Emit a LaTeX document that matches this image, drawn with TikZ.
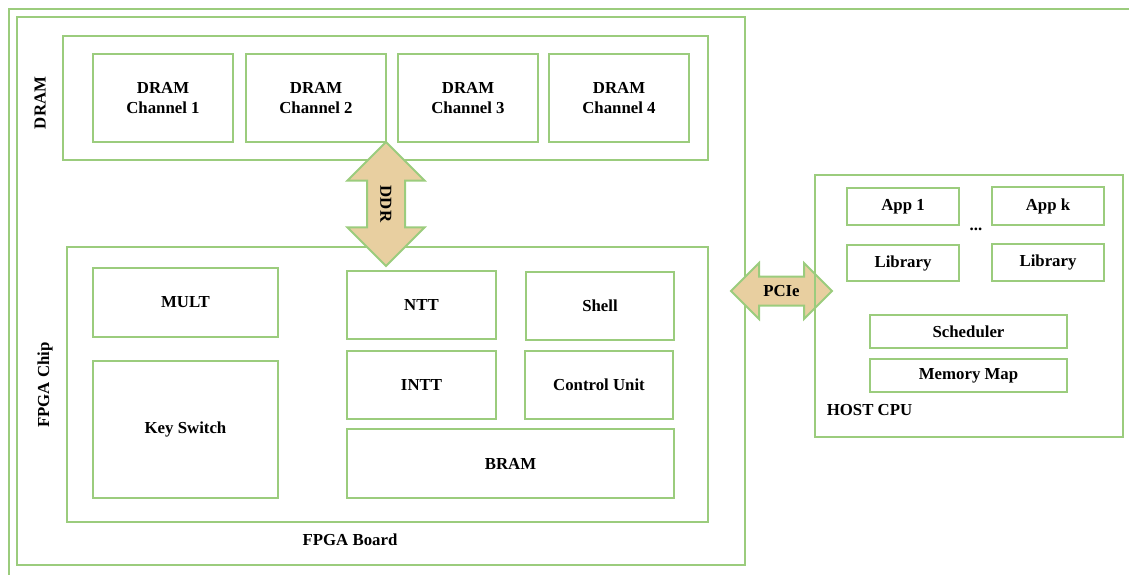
\documentclass[tikz,border=0pt]{standalone}
\usepackage{fontspec}
\setmainfont{Liberation Serif}
\usetikzlibrary{shapes.arrows, positioning}
\definecolor{boxgreen}{RGB}{155,204,125}
\definecolor{papyrus}{RGB}{232,207,160}

\begin{document}
\begin{tikzpicture}[x=1pt, y=-1pt,
    txt/.style={font=\bfseries\fontsize{16.8}{20}\selectfont},
    blk/.style={txt, draw=boxgreen, line width=2pt, inner sep=0pt, align=center},
    lbl/.style={txt, inner sep=0pt},
    bus/.style={txt, double arrow, double arrow head extend=#1, draw=boxgreen,
        line width=2pt, fill=papyrus, inner sep=0pt}]
    \useasboundingbox (0,0) rectangle (1129,575);

    % Outer frame
    \draw[boxgreen, line width=2pt] (9,580) -- (9,9) -- (1135,9);

    % FPGA board
    \node[blk, minimum width=728pt, minimum height=548pt] (board) at (381,291) {};
    \node[lbl] (boardlbl) at (350,540) {FPGA Board};

    % DRAM
    \node[blk, minimum width=645pt, minimum height=124pt] (dram) at (385.5,98) {};
    \node[lbl, rotate=90] (dramlbl) at (40,103) {DRAM};
    \foreach \i/\x in {1/163, 2/316, 3/468, 4/619}
        \node[blk, minimum width=140pt, minimum height=88pt] (ch\i) at (\x,98) {DRAM\\Channel \i};

    % FPGA chip
    \node[blk, minimum width=641pt, minimum height=275pt] (chip) at (387.5,384.5) {};
    \node[lbl, rotate=90] (chiplbl) at (45,385) {FPGA Chip};
    \node[blk, minimum width=185pt, minimum height=69pt] (mult) at (185.5,302.5) {MULT};
    \node[blk, minimum width=185pt, minimum height=137pt] (keysw) at (185.5,429.5) {Key Switch};
    \node[blk, minimum width=149pt, minimum height=68pt] (ntt) at (421.5,305) {NTT};
    \node[blk, minimum width=148pt, minimum height=68pt] (shell) at (600,306) {Shell};
    \node[blk, minimum width=149pt, minimum height=68pt] (intt) at (421.5,385) {INTT};
    \node[blk, minimum width=148pt, minimum height=68pt] (ctrl) at (599,385) {Control Unit};
    \node[blk, minimum width=327pt, minimum height=69pt] (bram) at (510.5,463.5) {BRAM};

    % Buses (shaft set by text height + depth)
    \node[bus=19.5pt, rotate=-90, minimum height=124pt, minimum width=77pt,
        text height=23.6pt, text depth=12.4pt] (ddr) at (386,204) {DDR};
    \node[bus=13.5pt, minimum height=101pt, minimum width=56pt,
        text height=19.1pt, text depth=7.9pt] (pcie) at (781.5,291) {PCIe};

    % Host
    \node[blk, minimum width=308pt, minimum height=262pt] (host) at (969,306) {};
    \node[lbl] (hostlbl) at (869.5,410) {HOST CPU};
    \node[blk, minimum width=112pt, minimum height=37pt] (app1) at (903,206.5) {App 1};
    \node[blk, minimum width=112pt, minimum height=38pt] (appk) at (1048,206) {App k};
    \node[lbl] (dots) at (976,229) {...};
    \node[blk, minimum width=112pt, minimum height=36pt] (lib1) at (903,263) {Library};
    \node[blk, minimum width=112pt, minimum height=37pt] (libk) at (1048,262.5) {Library};
    \node[blk, minimum width=197pt, minimum height=33pt] (sched) at (968.5,331.5) {Scheduler};
    \node[blk, minimum width=197pt, minimum height=33pt] (memmap) at (968.5,375.5) {Memory Map};
\end{tikzpicture}
\end{document}
